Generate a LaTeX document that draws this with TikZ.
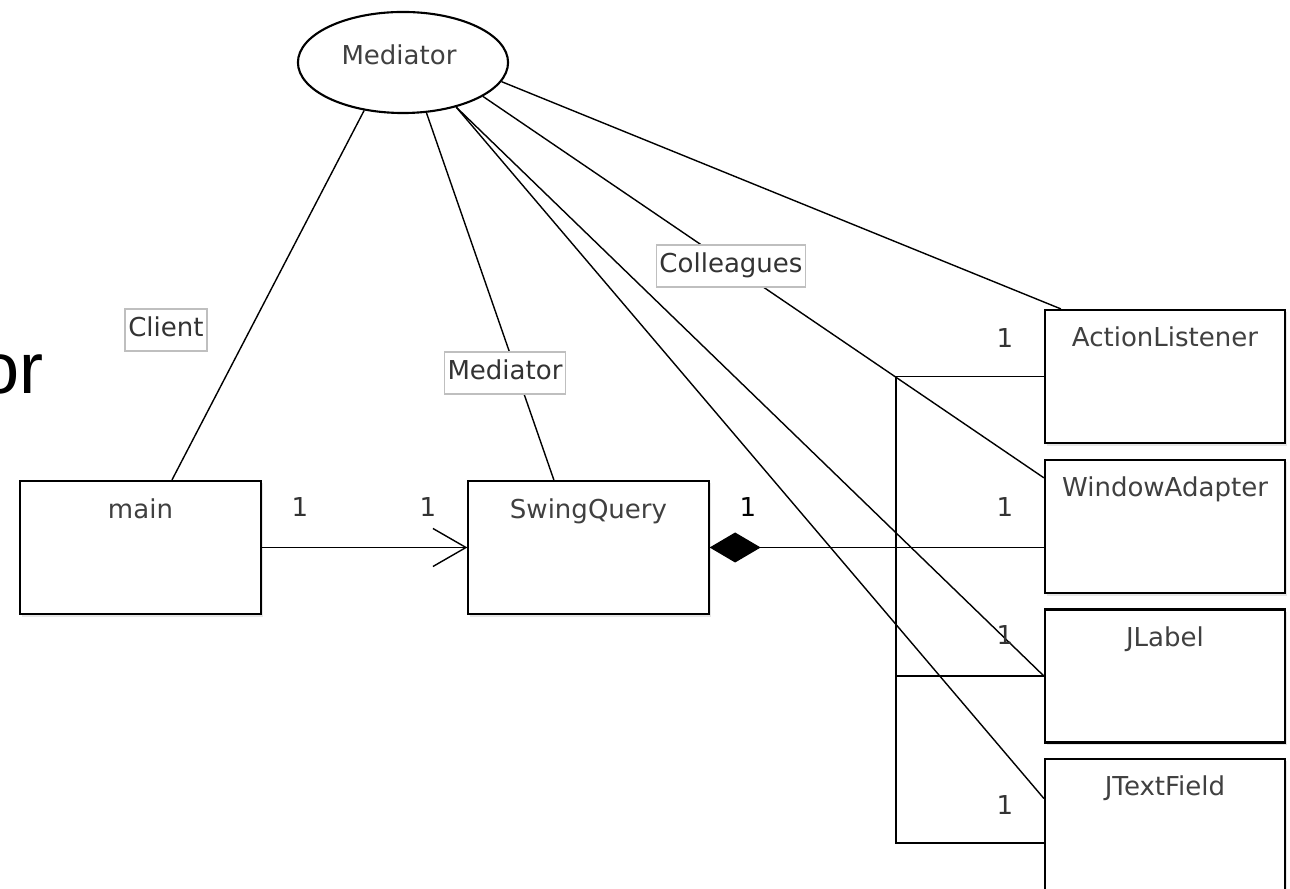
\documentclass[tikz,border=0pt]{standalone}
\usepackage{fontspec}
\setmainfont{DejaVu Sans}
\newfontfamily\slidefont{Liberation Sans}
\usetikzlibrary{shapes.geometric,arrows.meta,calc,shadows}

\tikzset{
  umlclass/.style = {draw, line width=0.6pt, fill=white, inner sep=0pt,
                     minimum width=2.4cm, minimum height=1.33cm,
                     drop shadow={shadow xshift=0.02cm, shadow yshift=-0.025cm, opacity=0.2}},
  classname/.style = {anchor=base, text=black!75, font=\fontsize{7.4pt}{9pt}\selectfont},
  rolelabel/.style = {draw=black!25, fill=white, line width=0.5pt, text=black!80,
                      font=\fontsize{7.4pt}{9pt}\selectfont,
                      text height=0.2cm, text depth=0.06cm, inner xsep=0.03cm, inner ysep=0.08cm},
  mult/.style      = {text=black!80, font=\fontsize{7.4pt}{9pt}\selectfont},
  assoc/.style     = {line width=0.4pt}
}

\begin{document}
\begin{tikzpicture}[x=0.01cm, y=-0.01cm]
% one unit is one pixel of the slide, y runs downwards
\useasboundingbox (0,0) rectangle (1290,889);
\clip (0,0) rectangle (1290,889);

% end of the slide title, cut off at the left
\node[anchor=base east, inner sep=0pt, font=\slidefont\fontsize{20.5pt}{24pt}\selectfont] (title) at (44,394) {or};

% the mediator role
\node[draw, ellipse, line width=0.6pt, inner sep=0pt, minimum width=2.1cm, minimum height=1.01cm] (med) at (403,62.5) {};
\node[classname] (medname) at (399,65) {Mediator};

% classes
\node[umlclass, label={[classname, yshift=-0.39cm]north:main}]          (main)  at (140.5,547.5) {};
\node[umlclass, label={[classname, yshift=-0.39cm]north:SwingQuery}]    (swing) at (588.5,547.5) {};
\node[umlclass, label={[classname, yshift=-0.38cm]north:ActionListener}](al)    at (1165,376.5) {};
\node[umlclass, label={[classname, yshift=-0.38cm]north:WindowAdapter}] (wa)    at (1165,526.5) {};
\node[umlclass, label={[classname, yshift=-0.38cm]north:JLabel}]        (jl)    at (1165,676) {};
\node[umlclass, label={[classname, yshift=-0.38cm]north:JTextField}]    (jtf)   at (1165,825.5) {};

% association main -> SwingQuery
\draw[assoc, -{Straight Barb[length=0.33cm, width=0.38cm]}] (main.east) -- (swing.west);

% composition SwingQuery <>-- colleagues
\coordinate (bus)    at (896,0);
\coordinate (busend) at (896,843);
\draw[assoc, {Diamond[length=0.51cm, width=0.3cm]}-] (swing.east) -- (swing.east -| wa.west);
\draw[assoc] (al.west) -- (al.west -| bus) -- (busend) -- (busend -| jtf.west);
\draw[assoc] (jl.west) -- (jl.west -| bus);

% role lines from the ellipse
\draw[assoc] (med.231) -- ($(main.north west)!0.63!(main.north east)$);
\draw[assoc] (med.295) -- ($(swing.north west)!0.357!(swing.north east)$);
\draw[assoc] (med.320) -- (jl.west);
\draw[assoc] (med.320) -- ($(jtf.north west)!0.3!(jtf.south west)$);
\draw[assoc] (med.337) -- ($(wa.north west)!0.14!(wa.south west)$);
\draw[assoc] (med.349) -- ($(al.north west)!0.07!(al.north east)$);

% role names
\node[rolelabel] (client)     at (166,330) {Client};
\node[rolelabel] (mediator)   at (505,373) {Mediator};
\node[rolelabel] (colleagues) at (731,266) {Colleagues};

% multiplicities
\node[mult] (m1) at (300,507)  {1};
\node[mult] (m2) at (428,507)  {1};
\node[mult, text=black] (m3) at (748,507)  {1};
\node[mult] (m4) at (1005,338) {1};
\node[mult] (m5) at (1005,507) {1};
\node[mult] (m6) at (1005,635) {1};
\node[mult] (m7) at (1005,805) {1};

\end{tikzpicture}
\end{document}
